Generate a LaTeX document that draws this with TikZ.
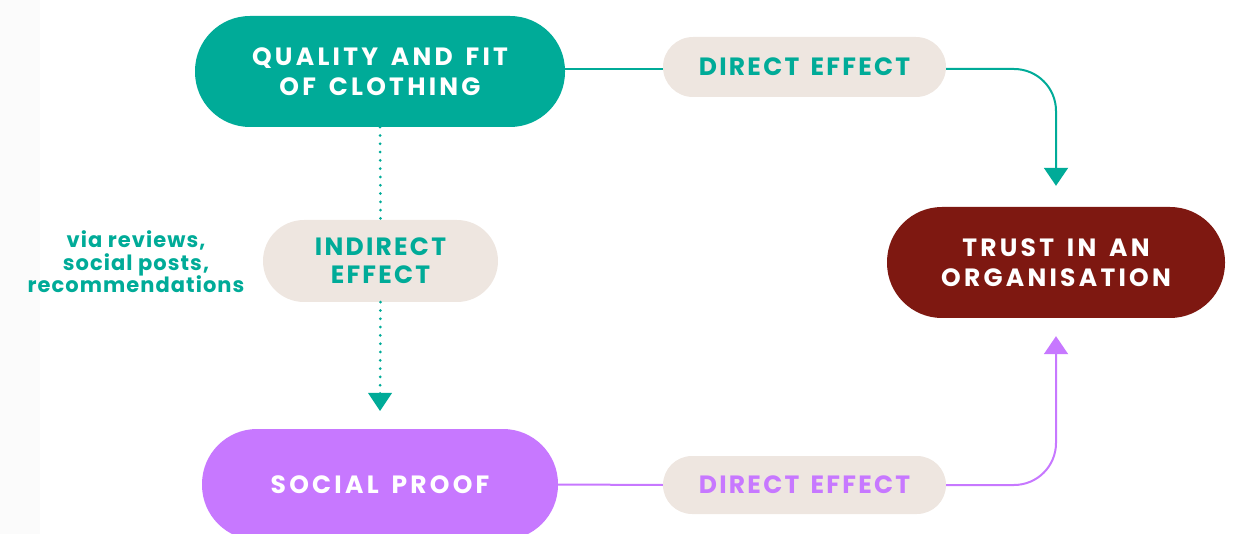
\documentclass[tikz,border=0pt]{standalone}
\usepackage{fontspec}
\setmainfont{Poppins}
\newfontfamily\titlef[LetterSpace=13,WordSpace=1.5]{Poppins}
\newfontfamily\pillf[LetterSpace=9,WordSpace=1.5]{Poppins}
\newfontfamily\sidef[LetterSpace=5]{Poppins}
\usetikzlibrary{arrows.meta,positioning}
\definecolor{teal1}{HTML}{00AB98}
\definecolor{pill}{HTML}{EEE6E0}
\definecolor{maroon1}{HTML}{7E1811}
\definecolor{purp}{HTML}{C778FF}
\definecolor{leftstrip}{HTML}{FBFBFB}
\tikzset{
  mainbox/.style={rectangle, rounded corners=55pt, minimum height=111pt, inner sep=0pt,
    text=white, align=center, font=\fontsize{25}{30}\titlef\bfseries},
  pillbox/.style={rectangle, fill=pill, inner sep=0pt, align=center,
    font=\fontsize{25}{28}\pillf\bfseries},
  conn/.style={line width=2pt, rounded corners=42pt},
  dotline/.style={line width=3pt, line cap=round, dash pattern=on 0pt off 8.3pt, teal1},
  tip/.style={-{Triangle[width=24pt,length=18pt]}},
}
\begin{document}
\begin{tikzpicture}[x=1pt,y=-1pt]
\useasboundingbox (0,0) rectangle (1237,534);
\fill[leftstrip] (0,0) rectangle (40,534);
% main nodes
\node[mainbox, fill=teal1, minimum width=370pt] (q) at (380,71.5) {QUALITY AND FIT\\OF CLOTHING};
\node[mainbox, fill=maroon1, minimum width=338pt] (t) at (1056,262.5) {TRUST IN AN\\ORGANISATION};
\node[mainbox, fill=purp, minimum width=356pt] (s) at (380,484.5) {SOCIAL PROOF};
% pills
\node[pillbox, text=teal1, minimum width=283pt, minimum height=60pt, rounded corners=30pt] (d1) at (804.5,67) {DIRECT EFFECT};
\node[pillbox, text=purp, minimum width=283pt, minimum height=58pt, rounded corners=29pt] (d2) at (804.5,485) {DIRECT EFFECT};
\node[pillbox, text=teal1, minimum width=235pt, minimum height=82pt, rounded corners=41pt] (i) at (380.5,261) {INDIRECT\\EFFECT};
% side text
\node[text=teal1, align=center, font=\fontsize{21}{22.5}\sidef\bfseries] (v) at (136,262) {via reviews,\\social posts,\\recommendations};
% connectors
\draw[conn, teal1] (q.east |- d1.west) ++(0,2) coordinate (qa) (qa) -- (d1.west |- qa);
\draw[conn, teal1, tip, shorten >=21pt] (d1.east |- qa) -| (t.north);
\draw[conn, purp] (s.east) -- (d2.west);
\draw[conn, purp, tip, shorten >=18pt] (d2.east) -| (t.south);
\draw[dotline] (q.south) -- (i.north);
\draw[dotline] (i.south) -- ([yshift=20pt]s.north);
\fill[teal1] (368,393) coordinate (a1) -- (392,393) coordinate (a2) -- (380,411) coordinate (a3) -- cycle;
\end{tikzpicture}
\end{document}
